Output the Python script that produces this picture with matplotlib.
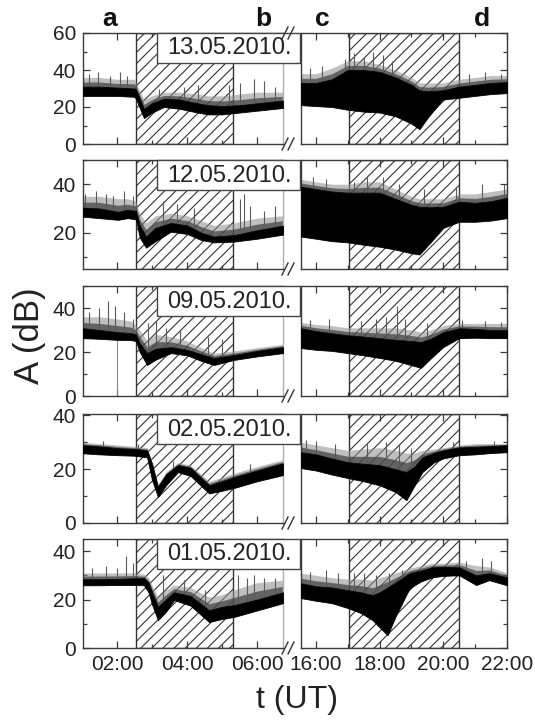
import numpy as np
import matplotlib
matplotlib.use("Agg")
import matplotlib.pyplot as plt
from matplotlib.lines import Line2D
from matplotlib.patches import Rectangle
from matplotlib.ticker import MultipleLocator, FuncFormatter

plt.rcParams['font.family'] = ['Liberation Sans', 'DejaVu Sans']
plt.rcParams['hatch.linewidth'] = 0.8

dates = ["13.05.2010.", "12.05.2010.", "09.05.2010.", "02.05.2010.", "01.05.2010."]
ylims = [(0, 60), (5, 50), (0, 50), (0, 40.5), (0, 45)]
yticks_major = [[0, 20, 40, 60], [20, 40], [0, 20, 40], [0, 20, 40], [0, 20, 40]]
left_xlim = (1.03, 6.74)
right_xlim = (15.53, 22.0)
left_xticks = [2, 4, 6]
right_xticks = [16, 18, 20, 22]
hatch_left = (2.54, 5.31)
hatch_right = (17.03, 20.5)

# ---- left panels (morning) : time, core low, core high, fuzz top ----
L_t = [
    [1.03, 1.5, 2.0, 2.5, 2.55, 2.77, 3.0, 3.34, 3.8, 4.3, 4.6, 5.0, 5.5, 6.0, 6.74],
    [1.03, 1.5, 2.03, 2.3, 2.54, 2.65, 2.83, 3.1, 3.54, 4.0, 4.4, 4.77, 5.34, 6.0, 6.74],
    [1.03, 1.5, 2.03, 2.4, 2.54, 2.65, 2.86, 3.1, 3.54, 4.0, 4.4, 4.77, 5.34, 6.0, 6.74],
    [1.03, 1.5, 2.03, 2.5, 2.86, 3.0, 3.17, 3.4, 3.74, 4.1, 4.63, 5.0, 5.34, 6.0, 6.74],
    [1.03, 1.5, 2.03, 2.5, 2.77, 2.9, 3.0, 3.17, 3.4, 3.63, 4.1, 4.63, 5.0, 5.34, 6.0, 6.74],
]
L_lo = [
    [26, 26, 26, 25.5, 24, 14, 17, 20, 19, 17, 16, 16, 17, 18, 19.5],
    [26.6, 26, 25.3, 26, 25.5, 18, 13.8, 16.5, 20.4, 19.5, 17, 16, 16.3, 17.5, 19.2],
    [26.3, 26, 25.5, 25.4, 25, 20, 14.1, 16.5, 19.5, 18.5, 16, 14.1, 16.4, 18, 19.5],
    [25.9, 25.5, 25.2, 25, 24.4, 16, 9.7, 14, 18.9, 17.5, 11, 12, 13, 15.5, 17.8],
    [25.9, 25.9, 26, 26, 25.9, 23, 18, 11.5, 15, 19.8, 17.5, 10.7, 12, 12.8, 15.5, 18.5],
]
L_hi = [
    [31, 31, 30.5, 30, 29, 19, 22, 24.5, 24, 22, 21, 20.5, 21, 22, 23.5],
    [30.3, 30, 28.6, 29.5, 29, 23, 18.4, 22, 24, 23, 20, 18.4, 19, 21, 22.9],
    [30.8, 30, 29, 28.6, 28, 24, 19.5, 21.5, 22.2, 21, 19, 17.3, 18.6, 20.5, 22.2],
    [28.9, 28.5, 27.8, 27.5, 27, 22, 13.3, 18, 21.5, 20.5, 14, 15.5, 17, 19.5, 22.2],
    [28.4, 28.4, 28.5, 28.8, 28.8, 27, 23, 17, 20, 23, 21.5, 15.6, 17, 17.7, 20, 23],
]
L_fz = [
    [36, 36, 35, 35, 33, 24, 26, 28, 28, 27, 26, 26, 27, 28, 28],
    [35, 35, 34, 34, 33, 28, 24, 27, 28, 27, 25, 23, 24, 26, 27],
    [36, 36, 35, 34, 32, 30, 25, 28, 27, 25, 22, 19.5, 20.5, 22, 23.5],
    [30, 29.5, 29, 28.5, 28, 23, 14.5, 19, 22.5, 21.5, 15.5, 17, 18.5, 21, 23.5],
    [31, 31, 31, 31, 30.5, 29, 26, 21, 24, 26, 25, 21, 22, 24, 27, 28],
]
L_spk_t = [
    [1.2, 1.45, 1.8, 2.1, 2.3, 3.2, 3.9, 4.3, 5.2, 5.5, 5.9, 6.2, 6.5],
    [1.1, 1.4, 1.7, 1.9, 2.2, 2.45, 3.3, 3.7, 4.2, 5.5, 5.64, 5.8, 6.2, 6.5],
    [1.2, 1.5, 1.75, 1.95, 2.2, 2.45, 2.9, 3.1, 3.4, 3.8, 4.6, 5.0],
    [1.6, 2.6, 3.6, 5.8],
    [1.3, 1.7, 2.0, 2.26, 2.45, 3.3, 3.9, 4.5, 5.45, 5.7, 5.9, 6.2, 6.5],
]
L_spk_v = [
    [38, 39, 37, 39, 37, 30, 31, 32, 32, 33, 35, 34, 31],
    [36, 37, 36, 35, 37, 35, 33, 32, 30, 34, 36, 31, 29, 31],
    [38, 40, 43, 41, 38, 35, 33, 34, 31, 30, 27, 26],
    [30.5, 29.5, 23, 22],
    [33, 34, 33, 38, 35, 30, 28, 24, 30, 29, 30, 29, 29],
]

# ---- right panels (evening) ----
R_t = [
    [15.53, 16.0, 16.5, 17.0, 17.5, 18.0, 18.5, 19.0, 19.25, 19.5, 19.97, 20.5, 21.0, 21.5, 22.0],
    [15.53, 16.0, 16.5, 17.0, 17.5, 18.0, 18.5, 19.0, 19.25, 19.6, 20.0, 20.5, 21.0, 21.5, 22.0],
    [15.53, 16.0, 16.5, 17.0, 17.5, 18.0, 18.5, 19.0, 19.3, 19.6, 20.0, 20.5, 21.0, 21.5, 22.0],
    [15.53, 16.0, 16.5, 17.0, 17.5, 18.0, 18.5, 18.84, 19.1, 19.34, 19.7, 20.0, 20.5, 21.0, 21.5, 22.0],
    [15.53, 16.0, 16.5, 17.0, 17.4, 17.78, 18.0, 18.25, 18.5, 18.94, 19.3, 19.66, 20.0, 20.5, 21.03, 21.44, 22.0],
]
R_lo = [
    [21, 20.5, 20, 18.5, 17.5, 17, 15, 11, 8, 14, 24, 25, 26, 27, 27.5],
    [18.4, 17.5, 16.5, 16, 15, 14.2, 13, 11.5, 11, 16, 22, 24.5, 24.5, 25, 26],
    [21.8, 21, 20.5, 19.5, 18.5, 17.3, 16, 14, 12.8, 17, 22.3, 26.3, 26.5, 26.3, 26.3],
    [20.4, 19.5, 18, 16.7, 15.5, 14, 11.5, 8.5, 14, 18.9, 22.5, 24, 25.2, 25.5, 26, 26.3],
    [20.6, 19.5, 18.5, 16.5, 14.5, 11.5, 8.5, 5.3, 13, 24.7, 27.5, 29.2, 29.8, 30, 26, 28, 25.9],
]
R_hi = [
    [33, 33, 35, 40, 40, 39, 36, 32, 29, 28.5, 29, 31, 32, 33, 33.5],
    [39, 38, 37, 36.5, 36.5, 36.5, 34, 31.5, 30.7, 30.5, 30.7, 32.8, 32.3, 33, 34.4],
    [30.8, 29.5, 28.5, 27.6, 27, 26.3, 25.5, 25, 24.5, 26, 29, 30.8, 30.5, 30, 29.9],
    [26.3, 25.5, 24, 22.6, 22, 21.5, 20, 18.9, 21, 24.4, 26, 27, 28.1, 28.3, 28.6, 28.9],
    [26.7, 25.5, 25, 23.9, 23, 21.8, 23, 25, 27, 30.9, 32, 33.3, 33.5, 33.3, 30, 30.9, 29.2],
]
R_fz = [
    [38, 38, 41, 45, 45, 43, 40, 36, 33, 33, 33, 35, 36, 37, 37],
    [42, 41, 40, 40, 41, 41, 38, 35, 34, 34, 34, 36, 36, 37, 38],
    [33.5, 32.5, 32, 31, 31, 31, 31, 30, 29, 30, 32, 33, 33, 33, 33],
    [30, 29, 28, 27, 27.5, 28, 27, 26, 26, 27, 27.5, 28, 29, 29.5, 29.5, 29.5],
    [30.9, 30, 29, 28.5, 28.5, 28, 29, 30, 31, 33, 34, 35, 35, 35.5, 34, 33.5, 31],
]
R_spk_t = [
    [15.8, 16.2, 16.9, 17.2, 17.5, 17.8, 18.1, 18.4, 20.8, 21.3, 21.8],
    [15.9, 16.3, 17.2, 17.6, 18.1, 18.6, 19.4, 20.4, 21.2, 21.9],
    [15.8, 16.4, 17.4, 17.9, 18.2, 18.56, 18.8, 19.5, 20.6, 21.3, 21.8],
    [15.7, 16.0, 16.6, 17.6, 18.2, 18.6, 19.0, 20.3, 21.6],
    [15.8, 16.3, 16.7, 17.2, 17.5, 17.9, 18.3, 18.7, 20.7, 21.2, 21.5],
]
R_spk_v = [
    [41, 42, 46, 49, 47, 50, 48, 45, 38, 39, 38],
    [43, 42, 41, 43, 43, 40, 38, 39, 40, 40],
    [34.5, 35, 34, 35, 36, 41, 35, 33, 34.5, 34, 33.5],
    [31, 30.5, 29.5, 29.5, 30, 29, 28, 30, 30.5],
    [31.5, 32, 31, 31, 31, 30, 31, 32, 36, 37, 36],
]
# data dropout line (09.05 morning)
drop_row = 2
drop_t = 2.0
drop_top = 26.0

W, H = 535, 722
rows_px = [(33, 144), (160, 269), (286, 396), (414, 523), (539, 648)]
left_px = (83, 283)
right_px = (301, 507)
frame_col = '#3a3a3a'

fig = plt.figure(figsize=(W / 100, H / 100), dpi=100)


def fx(x):
    return x / W


def fy(y):
    return 1 - y / H


def hfmt(v, pos):
    return "%02d:00" % int(round(v))


def style(ax, ylim, ymaj, xticks, xlim, showy, showx, side):
    ax.set_xlim(*xlim)
    ax.set_ylim(*ylim)
    ax.yaxis.set_major_locator(MultipleLocator(20))
    ax.yaxis.set_minor_locator(MultipleLocator(10))
    ax.set_xticks(xticks)
    ax.xaxis.set_minor_locator(MultipleLocator(1))
    ax.xaxis.set_major_formatter(FuncFormatter(hfmt))
    ax.tick_params(which='both', direction='in', top=True, bottom=True,
                   left=(side == 'L'), right=(side == 'R'),
                   color=frame_col, width=0.9, labelsize=15, labelcolor='#222222')
    ax.tick_params(which='major', length=5, pad=5)
    ax.tick_params(which='minor', length=3)
    if not showy:
        ax.tick_params(labelleft=False)
    else:
        ax.set_yticks(ymaj)
    if not showx:
        ax.tick_params(labelbottom=False)
    for s in ax.spines.values():
        s.set_color(frame_col)
        s.set_linewidth(1.0)


def draw(ax, t, lo, hi, fz, st, sv, hatch):
    ax.axvspan(hatch[0], hatch[1], facecolor='none', edgecolor='#333333',
               hatch='///', lw=1.0, zorder=1)
    t = np.asarray(t, float)
    hi = np.asarray(hi, float)
    fz = np.asarray(fz, float)
    # soft halo of noise above the core: darker near the core, lighter at the top
    ax.fill_between(t, hi, fz, color='#8c8c8c', lw=0, alpha=0.55, zorder=2)
    ax.fill_between(t, hi, (hi + fz) / 2, color='#3c3c3c', lw=0, alpha=0.7, zorder=2)
    base = np.interp(st, t, hi)
    ax.vlines(st, base, sv, color='#5a5a5a', lw=0.8, zorder=2)
    ax.fill_between(t, lo, hi, color='black', lw=0.6, edgecolor='black', zorder=3)


for i, (top, bot) in enumerate(rows_px):
    h = (bot - top) / H
    axL = fig.add_axes([fx(left_px[0]), fy(bot), (left_px[1] - left_px[0]) / W, h])
    axR = fig.add_axes([fx(right_px[0]), fy(bot), (right_px[1] - right_px[0]) / W, h])
    last = i == len(rows_px) - 1
    style(axL, ylims[i], yticks_major[i], left_xticks, left_xlim, True, last, 'L')
    style(axR, ylims[i], yticks_major[i], right_xticks, right_xlim, False, last, 'R')
    axL.spines['right'].set_color('#b0b0b0')
    draw(axL, L_t[i], L_lo[i], L_hi[i], L_fz[i], L_spk_t[i], L_spk_v[i], hatch_left)
    draw(axR, R_t[i], R_lo[i], R_hi[i], R_fz[i], R_spk_t[i], R_spk_v[i], hatch_right)
    if i == drop_row:
        axL.vlines([drop_t], ylims[i][0], drop_top, color='#888888', lw=0.8, zorder=2)

    # date label box
    bx0, bx1 = 157, 300
    fig.add_artist(Rectangle((fx(bx0), fy(top + 30)), (bx1 - bx0) / W, 30 / H,
                             transform=fig.transFigure, facecolor='white',
                             edgecolor='#444444', lw=1.0, zorder=5))
    fig.text(fx((bx0 + bx1) / 2 + 1), fy(top + 15.5), dates[i], ha='center', va='center',
             fontsize=17, color='#222222', zorder=6)

    # break marks
    marks_y = [bot] + ([top] if i == 0 else [])
    for my in marks_y:
        for mx in (285, 291):
            fig.add_artist(Line2D([fx(mx - 3), fx(mx + 3)], [fy(my + 6), fy(my - 6)],
                                  transform=fig.transFigure, color='#333333', lw=1.0, zorder=7))

# panel letters
for lab, x in zip(['a', 'b', 'c', 'd'], [110, 263, 322, 482]):
    fig.text(fx(x), fy(19), lab, ha='center', va='center', fontsize=19,
             fontweight='bold', color='#111111')

fig.text(fx(29), fy(336), 'A (dB)', rotation=90, ha='center', va='center',
         fontsize=25, color='#222222')
fig.text(fx(297), fy(700), 't (UT)', ha='center', va='center', fontsize=23,
         color='#222222')

fig.savefig('out.png', dpi=100, facecolor='white')
